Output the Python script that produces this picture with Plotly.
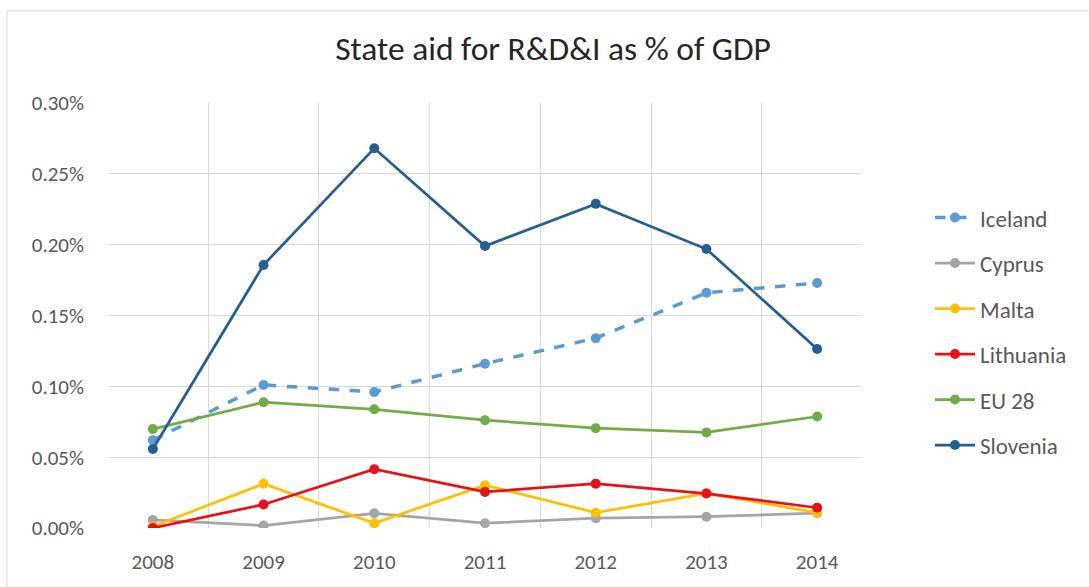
import plotly.graph_objects as go

# State aid for R&D&I as % of GDP, 2008-2014
years = ["2008", "2009", "2010", "2011", "2012", "2013", "2014"]

iceland = [0.062, 0.101, 0.096, 0.116, 0.134, 0.166, 0.173]
cyprus = [0.0057, 0.0017, 0.0104, 0.0034, 0.0069, 0.0080, 0.0105]
malta = [0.0010, 0.0312, 0.0034, 0.0302, 0.0108, 0.0245, 0.0108]
lithuania = [0.0000, 0.0166, 0.0415, 0.0255, 0.0313, 0.0243, 0.0143]
eu28 = [0.0698, 0.0888, 0.0838, 0.0761, 0.0705, 0.0675, 0.0787]
slovenia = [0.0558, 0.1857, 0.2680, 0.1990, 0.2288, 0.1969, 0.1264]

y_ticks = [0.0, 0.05, 0.10, 0.15, 0.20, 0.25, 0.30]

FONT = "Calibri, Carlito, Lato, 'Open Sans', sans-serif"

series = [
    ("Iceland", iceland, "#5B9BD5", "dash", 3.5),
    ("Cyprus", cyprus, "#A5A5A5", "solid", 2.75),
    ("Malta", malta, "#FFC000", "solid", 2.75),
    ("Lithuania", lithuania, "#E8111A", "solid", 2.75),
    ("EU 28", eu28, "#70AD47", "solid", 2.75),
    ("Slovenia", slovenia, "#255E91", "solid", 2.75),
]

fig = go.Figure()
for name, vals, color, dash, width in series:
    fig.add_trace(go.Scatter(
        x=years, y=vals, name=name, mode="lines+markers",
        legendgroup=name,
        line=dict(color=color, width=width, dash=dash),
        marker=dict(color=color, size=10),
    ))

# plot-area geometry in pixels
W, H = 1089, 587
L, R, T, B = 109, 228, 103, 55
pw, ph = W - L - R, H - T - B


def px_x(p):
    return (p - L) / pw


def px_y(p):
    return (H - B - p) / ph


# light frame around the chart area (top and left edges)
frame = dict(color="#D9D9D9", width=1)
shapes = [
    dict(type="line", xref="paper", yref="paper", x0=px_x(7), x1=px_x(W + 5),
         y0=px_y(10), y1=px_y(10), line=frame),
    dict(type="line", xref="paper", yref="paper", x0=px_x(7), x1=px_x(7),
         y0=px_y(10), y1=px_y(H + 5), line=frame),
]

fig.update_layout(
    width=W, height=H,
    margin=dict(l=L, r=R, t=T, b=B),
    paper_bgcolor="white", plot_bgcolor="white",
    font=dict(family=FONT, color="#595959"),
    title=dict(text="State aid for R&D&I as % of GDP",
               x=px_x(553), xref="paper", xanchor="center",
               y=1 - 48 / H, yanchor="middle",
               font=dict(family=FONT, size=33.5, color="#262626")),
    xaxis=dict(type="category", tickson="boundaries", showgrid=True,
               gridcolor="#D9D9D9", gridwidth=1, showline=False,
               ticks="", zeroline=False,
               tickfont=dict(size=21, color="#595959"),
               ticklabelstandoff=19),
    yaxis=dict(range=[0, 0.30], tickvals=y_ticks,
               ticktext=[f"{v:.2f}%" for v in y_ticks],
               showgrid=True, gridcolor="#D9D9D9", gridwidth=1,
               zeroline=False, showline=False, ticks="",
               tickfont=dict(size=21, color="#595959"),
               ticklabelstandoff=24),
    legend=dict(x=px_x(930), y=px_y(197), xanchor="left", yanchor="top",
                font=dict(size=23, color="#595959"),
                tracegroupgap=12.6, itemwidth=40,
                bgcolor="rgba(0,0,0,0)"),
    shapes=shapes,
)

fig.write_html("out.html")
